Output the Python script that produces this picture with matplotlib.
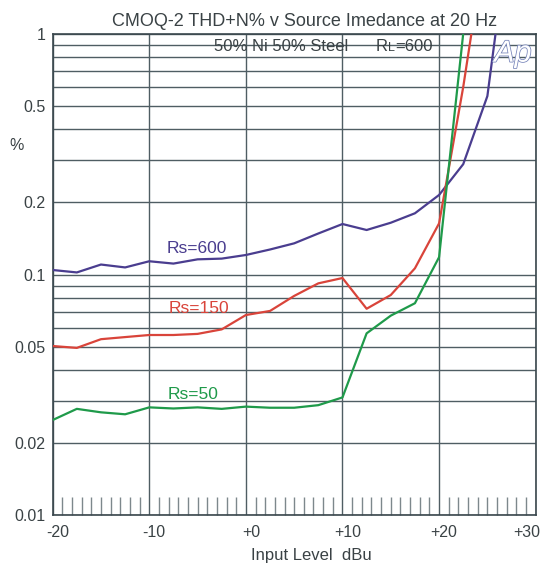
import numpy as np
import matplotlib
matplotlib.use("Agg")
import matplotlib.pyplot as plt
import matplotlib.patheffects as pe
from matplotlib.ticker import FixedLocator, MultipleLocator, NullFormatter
from matplotlib.transforms import ScaledTranslation

plt.rcParams['font.family'] = ['Liberation Sans', 'DejaVu Sans']

# data (THD+N % vs input level dBu)
level_dbu = [-20, -17.5, -15, -12.5, -10, -7.5, -5, -2.5, 0, 2.5,
             5, 7.5, 10, 12.5, 15, 17.5, 20, 22.5, 25, 27.5]
thd_rs600 = [0.1044, 0.102, 0.110, 0.107, 0.1135, 0.111, 0.1156, 0.1164, 0.1205, 0.127,
             0.1347, 0.148, 0.162, 0.153, 0.164, 0.1795, 0.2138, 0.287, 0.55, 3.2]
thd_rs150 = [0.0505, 0.0496, 0.0539, 0.055, 0.0561, 0.0561, 0.0567, 0.0592, 0.0679, 0.0706,
             0.0815, 0.0919, 0.0967, 0.0721, 0.0822, 0.1061, 0.163, 0.60, 2.7, np.nan]
thd_rs50 = [0.0249, 0.0277, 0.0268, 0.0263, 0.0281, 0.0278, 0.0281, 0.0277, 0.0283, 0.028,
            0.028, 0.0287, 0.0309, 0.057, 0.0675, 0.076, 0.118, 1.0, 5.0, np.nan]

y_major = [0.01, 0.02, 0.05, 0.1, 0.2, 0.5, 1]
y_major_labels = ['0.01', '0.02', '0.05', '0.1', '0.2', '0.5', '1']
y_minor = [0.03, 0.04, 0.06, 0.07, 0.08, 0.09, 0.3, 0.4, 0.6, 0.7, 0.8, 0.9]
x_ticks = [-20, -10, 0, 10, 20, 30]
x_labels = ['-20', '-10', '+0', '+10', '+20', '+30']

c600 = '#4a3d8f'
c150 = '#d9443a'
c50 = '#1f9a4a'
grid_c = '#4f5d63'
text_c = '#3a4245'

fig = plt.figure(figsize=(5.47, 5.71), dpi=100)
ax = fig.add_axes([0.0963, 0.0972, 0.883, 0.8441])

ax.plot(level_dbu, thd_rs600, color=c600, lw=1.6, zorder=3)
ax.plot(level_dbu, thd_rs150, color=c150, lw=1.6, zorder=3)
ax.plot(level_dbu, thd_rs50, color=c50, lw=1.6, zorder=3)

ax.set_yscale('log')
ax.set_xlim(-20, 30)
ax.set_ylim(0.01, 1)

ax.yaxis.set_major_locator(FixedLocator(y_major))
ax.set_yticklabels(y_major_labels)
ax.yaxis.set_minor_locator(FixedLocator(y_minor))
ax.yaxis.set_minor_formatter(NullFormatter())
ax.set_xticks(x_ticks)
ax.set_xticklabels(x_labels)
ax.xaxis.set_minor_locator(MultipleLocator(1))

ax.grid(True, which='both', axis='y', color=grid_c, lw=1.0)
ax.grid(True, which='major', axis='x', color=grid_c, lw=1.0)
ax.set_axisbelow(True)

ax.tick_params(axis='both', which='major', length=0, labelsize=11.5, colors=text_c)
ax.tick_params(axis='y', which='major', pad=5)
ax.tick_params(axis='x', which='major', pad=7)
ax.tick_params(axis='y', which='minor', length=0)
ax.tick_params(axis='x', which='minor', direction='in', length=13, width=1.0,
               color='#7d888c')

for s in ax.spines.values():
    s.set_color('#3a474d')
    s.set_linewidth(1.2)

# x tick labels sit a little right of their gridlines
for i, lab in enumerate(ax.get_xticklabels()):
    if i == len(x_labels) - 1:
        lab.set_horizontalalignment('right')
        lab.set_transform(lab.get_transform() + ScaledTranslation(0.045, 0, fig.dpi_scale_trans))
    else:
        lab.set_transform(lab.get_transform() + ScaledTranslation(0.05, 0, fig.dpi_scale_trans))

ax.set_xlabel('Input Level  dBu', fontsize=12, color=text_c)
ax.xaxis.set_label_coords(0.535, -0.068)
ax.set_ylabel('%', fontsize=11.5, color=text_c, rotation=0)
ax.yaxis.set_label_coords(-0.074, 0.752)

fig.text(0.556, 0.963, 'CMOQ-2 THD+N% v Source Imedance at 20 Hz',
         ha='center', va='center', fontsize=13, color=text_c)

t1 = fig.text(0.391, 0.906, '50% Ni 50% Steel      R', ha='left', va='bottom',
              fontsize=12, color=text_c)
t2 = ax.annotate('L', xy=(1, 0), xycoords=t1, ha='left', va='bottom',
                 fontsize=9, color=text_c)
ax.annotate('=600', xy=(1, 0), xycoords=t2, ha='left', va='bottom',
            fontsize=12, color=text_c)

ax.text(-8.2, 0.1225, 'Rs=600', color=c600, fontsize=12.5, va='baseline')
ax.text(-7.96, 0.069, 'Rs=150', color=c150, fontsize=12.5, va='baseline')
ax.text(-8.06, 0.0303, 'Rs=50', color=c50, fontsize=12.5, va='baseline')

ax.text(0.914, 0.9415, 'Ap', transform=ax.transAxes, ha='left', va='baseline',
        fontsize=22, fontstyle='italic', color='white', zorder=5,
        path_effects=[pe.Stroke(linewidth=1.1, foreground='#7482b8'), pe.Normal()])

fig.savefig('out.png', dpi=100)
